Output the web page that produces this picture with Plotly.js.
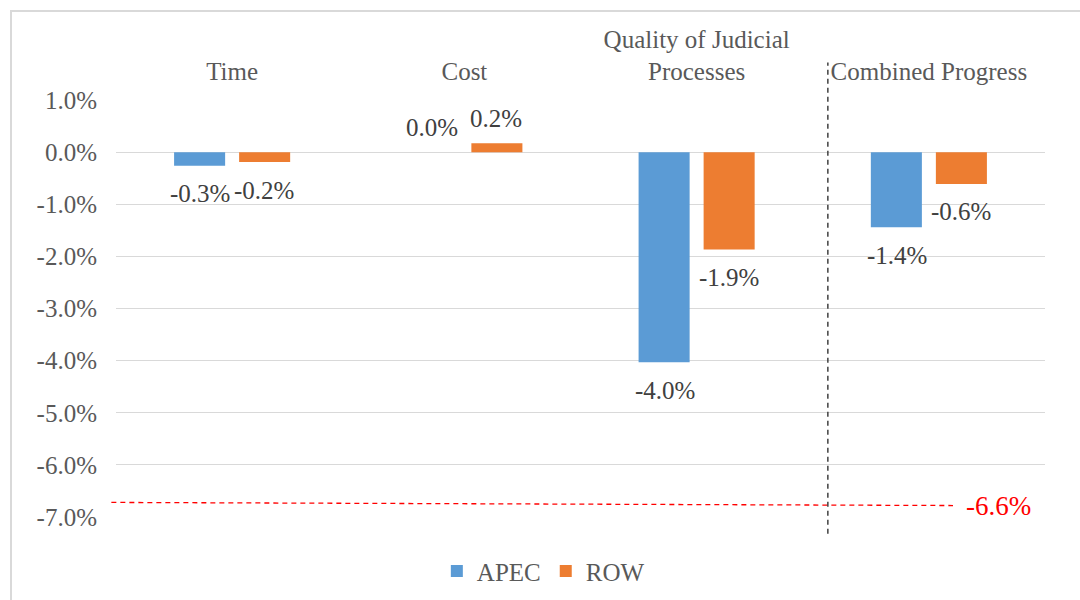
<!DOCTYPE html>
<html>
<head>
<meta charset="utf-8">
<script src="https://cdn.plot.ly/plotly-3.0.1.min.js"></script>
<style>html,body{margin:0;padding:0;background:#fff;}#chart{width:1080px;height:600px;}</style>
</head>
<body>
<div id="chart"></div>
<script>
// Data (percent)
const categories = ['Time', 'Cost', 'Quality of Judicial<br>Processes', 'Combined Progress'];
const apecValues = [-0.26, 0.0, -4.03, -1.44];
const rowValues = [-0.19, 0.17, -1.87, -0.61];
const seriesNames = ['APEC', 'ROW'];
const yTickVals = [1, 0, -1, -2, -3, -4, -5, -6, -7];
const refLineValues = [-6.72, -6.78];
const refLineLabel = '-6.6%';
const dividerPosition = 2.565; // between 3rd and 4th category (category index units)

const colors = {APEC: '#5B9BD5', ROW: '#ED7D31'};
const FONT = 'Liberation Serif, Times New Roman, serif';
const textColor = '#595959';
const FS = 25;

const traces = [
  {type: 'bar', name: seriesNames[0], x: categories, y: apecValues, marker: {color: colors.APEC}, hoverinfo: 'skip'},
  {type: 'bar', name: seriesNames[1], x: categories, y: rowValues, marker: {color: colors.ROW}, hoverinfo: 'skip'}
];

function fmt(v) { return v.toFixed(1) + '%'; }

const annotations = [];
[[apecValues, -32], [rowValues, 32]].forEach(([vals, xs]) => {
  vals.forEach((v, i) => {
    annotations.push({
      x: categories[i], y: v, xref: 'x', yref: 'y',
      text: fmt(v), showarrow: false,
      xshift: xs, yshift: v < 0 ? -28 : 25,
      yanchor: 'middle', xanchor: 'center',
      font: {family: FONT, size: FS, color: '#404040'}
    });
  });
});
annotations.push({
  x: 0.95, xref: 'paper', y: refLineValues[1], yref: 'y',
  text: refLineLabel, showarrow: false, xanchor: 'center', yanchor: 'middle',
  font: {family: FONT, size: 27, color: '#FF0000'}
});

const shapes = [
  // outer chart border
  {type: 'rect', xref: 'paper', yref: 'paper', x0: -0.113, x1: 1.2, y0: -0.5, y1: 1.2134,
   line: {color: '#D9D9D9', width: 2}, fillcolor: 'rgba(0,0,0,0)', layer: 'below'},
  // red dashed reference line
  {type: 'line', xref: 'paper', yref: 'y', x0: -0.005, x1: 0.901, y0: refLineValues[0], y1: refLineValues[1],
   line: {color: '#FF0000', width: 1.3, dash: '5px,4px'}},
  // vertical divider
  {type: 'line', xref: 'x', yref: 'paper', x0: dividerPosition, x1: dividerPosition, y0: -0.04, y1: 1.09,
   line: {color: '#404040', width: 1.5, dash: '5px,4px'}}
];

const layout = {
  width: 1080, height: 600,
  margin: {l: 116, r: 35, t: 100, b: 83, autoexpand: false},
  paper_bgcolor: '#fff', plot_bgcolor: '#fff',
  font: {family: FONT, color: textColor, size: FS},
  barmode: 'group', bargap: 0.44, bargroupgap: 0.215,
  showlegend: true,
  legend: {orientation: 'h', x: 0.46, xanchor: 'center', y: -0.13, yanchor: 'middle',
           font: {family: FONT, size: FS, color: textColor}, traceorder: 'normal'},
  xaxis: {side: 'top', type: 'category', showgrid: false, showline: false, zeroline: false,
          ticks: '', ticklabelstandoff: 14, automargin: false,
          tickfont: {family: FONT, size: FS, color: textColor}, fixedrange: true},
  yaxis: {range: [-7, 1], tickvals: yTickVals, ticktext: yTickVals.map(v => v.toFixed(1) + '%'),
          showgrid: true, gridcolor: '#D9D9D9', gridwidth: 1, zeroline: true, zerolinecolor: '#D9D9D9', zerolinewidth: 1,
          showline: false, ticks: '', ticklabelstandoff: 18, automargin: false,
          tickfont: {family: FONT, size: FS, color: textColor}, fixedrange: true},
  annotations: annotations,
  shapes: shapes
};

Plotly.newPlot('chart', traces, layout, {displayModeBar: false, staticPlot: true});
</script>
</body>
</html>
